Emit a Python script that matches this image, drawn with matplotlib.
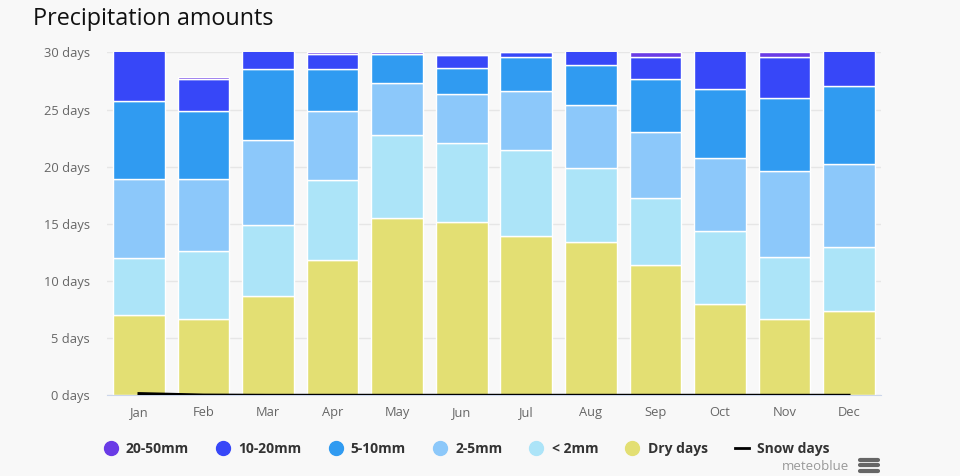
import numpy as np
import matplotlib
matplotlib.use("Agg")
import matplotlib.pyplot as plt
from matplotlib.lines import Line2D

# ---- data (days per month) -------------------------------------------------
months = ["Jan", "Feb", "Mar", "Apr", "May", "Jun",
          "Jul", "Aug", "Sep", "Oct", "Nov", "Dec"]
dry_days = [7.0, 6.7, 8.7, 11.8, 15.5, 15.2, 13.9, 13.4, 11.4, 8.0, 6.65, 7.35]
lt_2mm   = [5.0, 5.9, 6.2, 7.0, 7.3, 6.9, 7.6, 6.5, 5.85, 6.35, 5.45, 5.65]
mm_2_5   = [6.9, 6.3, 7.45, 6.1, 4.5, 4.25, 5.1, 5.5, 5.8, 6.45, 7.55, 7.25]
mm_5_10  = [6.85, 6.0, 6.2, 3.65, 2.55, 2.25, 3.0, 3.5, 4.6, 6.0, 6.35, 6.85]
mm_10_20 = [5.0, 2.8, 2.3, 1.3, 0.0, 1.15, 0.45, 1.5, 1.95, 4.1, 3.6, 3.8]
mm_20_50 = [0.25, 0.15, 0.15, 0.17, 0.2, 0.0, 0.0, 0.1, 0.4, 0.1, 0.4, 0.1]
snow_days = [0.15, 0.02, 0, 0, 0, 0, 0, 0, 0, 0, 0, 0]
y_ticks = [0, 5, 10, 15, 20, 25, 30]

# ---- palette ---------------------------------------------------------------
BG = "#f8f8f8"
GRID = "#e6e6e6"
TXT = "#666666"
C_DRY = "#e3df73"
C_LT2 = "#ace4f8"
C_25 = "#8cc8fa"
C_510 = "#309bf1"
C_1020 = "#3747f8"
C_2050 = "#6a3be6"

plt.rcParams.update({
    "figure.facecolor": BG, "savefig.facecolor": BG,
    "font.family": ["Open Sans", "DejaVu Sans"],
})

fig = plt.figure(figsize=(9.6, 4.76), dpi=100)
ax = fig.add_axes([0.1112, 0.1695, 0.8068, 0.7205])
ax.set_facecolor(BG)

x = np.arange(len(months))
series = [
    ("Dry days", dry_days, C_DRY),
    ("< 2mm", lt_2mm, C_LT2),
    ("2-5mm", mm_2_5, C_25),
    ("5-10mm", mm_5_10, C_510),
    ("10-20mm", mm_10_20, C_1020),
    ("20-50mm", mm_20_50, C_2050),
]
bottom = np.zeros(len(months))
for name, vals, col in series:
    vals = np.array(vals, dtype=float)
    ax.bar(x, vals, width=0.8, bottom=bottom, color=col,
           edgecolor="white", linewidth=1.0, zorder=3)
    bottom += vals

ax.plot(x, snow_days, color="black", lw=2.2, zorder=5)

ax.set_xlim(-0.5, len(months) - 0.5)
ax.set_ylim(0, 30)
ax.set_yticks(y_ticks)
ax.set_yticklabels([f"{t} days" for t in y_ticks])
ax.set_xticks(x)
ax.set_xticklabels(months)
ax.grid(axis="y", color=GRID, lw=1, zorder=0)
for s in ("top", "right", "left"):
    ax.spines[s].set_visible(False)
ax.spines["bottom"].set_color("#ccd6eb")
ax.spines["bottom"].set_zorder(4)
ax.tick_params(axis="y", length=0, pad=12, labelsize=9.3, labelcolor=TXT)
ax.tick_params(axis="x", length=0, pad=8, labelsize=9.3, labelcolor=TXT)

fig.text(0.034, 0.96, "Precipitation amounts", fontsize=16.8, color="#111111",
         va="center", ha="left")

# legend
handles = []
for name, vals, col in reversed(series):
    handles.append(Line2D([], [], marker="o", ls="none", color=col,
                          markersize=10, label=name))
handles.append(Line2D([], [], color="black", lw=2, label="Snow days"))
leg = fig.legend(handles=handles, loc="center", bbox_to_anchor=(0.486, 0.057),
                 ncol=7, frameon=False, handlelength=1.0, handletextpad=0.6,
                 columnspacing=1.95, prop={"weight": "bold", "size": 10})
for t in leg.get_texts():
    t.set_color("#333333")

# credit + menu icon
fig.text(0.884, 0.019, "meteoblue", fontsize=9.5, color="#999999",
         ha="right", va="center")
for yy in (459.5, 465, 470.5):
    fig.add_artist(Line2D([860 / 960, 878 / 960], [1 - yy / 476, 1 - yy / 476],
                          color="#666666", lw=3, solid_capstyle="round"))

fig.savefig("out.png", dpi=100, facecolor=BG)
